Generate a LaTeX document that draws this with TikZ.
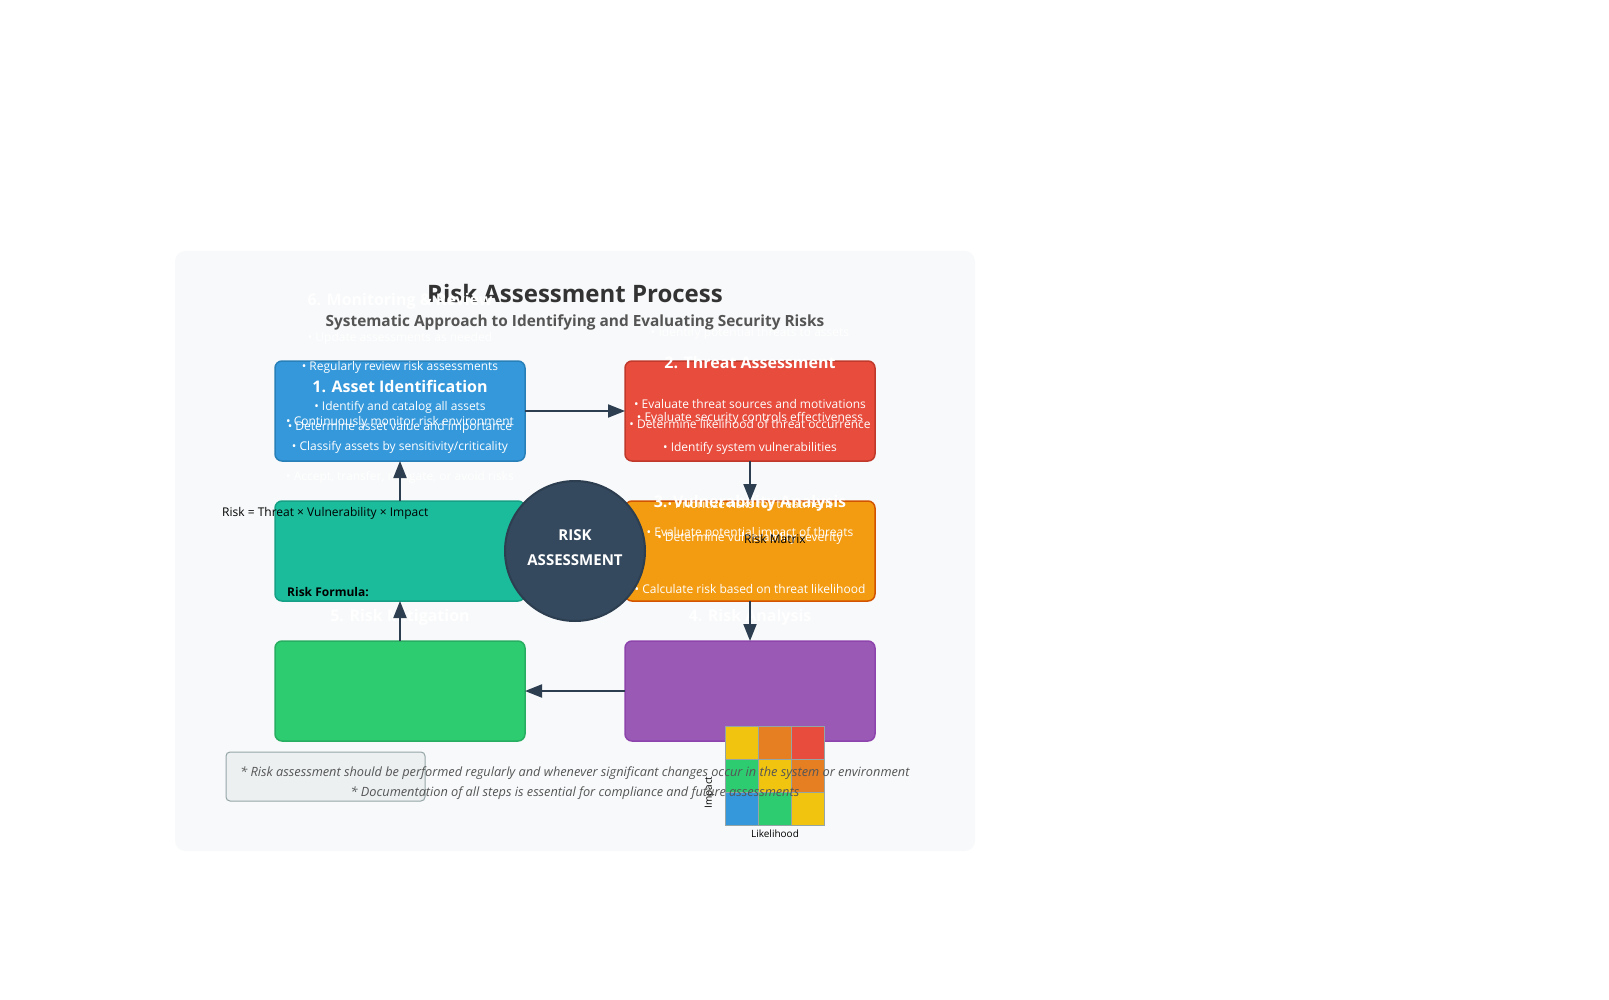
\documentclass[tikz,border=0pt]{standalone}
\usepackage{fontspec}
\setmainfont{Open Sans}
\usetikzlibrary{arrows.meta}
\definecolor{panel}{HTML}{F8F9FA}
\definecolor{ink}{HTML}{333333}
\definecolor{subink}{HTML}{555555}
\definecolor{arrowc}{HTML}{2C3E50}
\definecolor{blueb}{HTML}{3498DB}
\definecolor{blued}{HTML}{2980B9}
\definecolor{redb}{HTML}{E74C3C}
\definecolor{redd}{HTML}{C0392B}
\definecolor{tealb}{HTML}{1ABC9C}
\definecolor{teald}{HTML}{16A085}
\definecolor{orangeb}{HTML}{F39C12}
\definecolor{oranged}{HTML}{D35400}
\definecolor{greenb}{HTML}{2ECC71}
\definecolor{greend}{HTML}{27AE60}
\definecolor{purpleb}{HTML}{9B59B6}
\definecolor{purpled}{HTML}{8E44AD}
\definecolor{coref}{HTML}{34495E}
\definecolor{mx-y}{HTML}{F1C40F}
\definecolor{mx-o}{HTML}{E67E22}
\definecolor{notefill}{HTML}{ECF0F1}
\definecolor{notegray}{HTML}{95A5A6}

\begin{document}
\begin{tikzpicture}[x=1pt,y=-1pt,
  stepbox/.style={draw,line width=1.5pt,rounded corners=7pt,minimum width=250pt,minimum height=100pt,outer sep=0pt},
  bul/.style={text=white,inner sep=0pt,yshift=-1.5pt,font=\fontsize{12}{14}\selectfont},
  ttl/.style={text=white,inner sep=0pt,yshift=-1.5pt,font=\bfseries\fontsize{16}{19}\selectfont},
  blk/.style={text=black,inner sep=0pt,yshift=-1.5pt,font=\fontsize{12}{14}\selectfont},
  arr/.style={line width=2pt,draw=arrowc,-{Triangle[length=17pt,width=13pt]}},
  cell/.style={draw=notegray,line width=1pt,minimum size=33.3pt,inner sep=0pt,outer sep=0pt},
  note/.style={text=subink,inner sep=0pt,yshift=-2pt,font=\itshape\fontsize{12.75}{15}\selectfont}]
  \useasboundingbox (0,0) rectangle (1609,1000);
  \fill[panel,rounded corners=10pt] (175,251) rectangle (975,851);

  % title
  \node[text=ink,font=\bfseries\fontsize{24}{28}\selectfont] (title) at (575,294) {Risk Assessment Process};
  \node[text=subink,font=\bfseries\fontsize{15.4}{18}\selectfont] (subtitle) at (575,322) {Systematic Approach to Identifying and Evaluating Security Risks};

  % step boxes
  \node[stepbox,fill=blueb,draw=blued] (asset) at (400,411) {};
  \node[stepbox,fill=redb,draw=redd] (threat) at (750,411) {};
  \node[stepbox,fill=tealb,draw=teald] (monitor) at (400,551) {};
  \node[stepbox,fill=orangeb,draw=oranged] (vuln) at (750,551) {};
  \node[stepbox,fill=greenb,draw=greend] (mitig) at (400,691) {};
  \node[stepbox,fill=purpleb,draw=purpled] (analysis) at (750,691) {};

  % step texts
  \node[ttl] (t6) at (400,300) {6. Monitoring \& Review};
  \node[bul] (b6a) at (400,337) {• Update assessments as needed};
  \node[bul] (b6b) at (400,366) {• Regularly review risk assessments};
  \node[bul] (b6c) at (400,421) {• Continuously monitor risk environment};
  \node[ttl] (t1) at (400,385) {1. Asset Identification};
  \node[bul] (b1a) at (400,406) {• Identify and catalog all assets};
  \node[bul] (b1b) at (400,426) {• Determine asset value and importance};
  \node[bul] (b1c) at (400,446) {• Classify assets by sensitivity/criticality};
  \node[bul] (b5a) at (400,476) {• Accept, transfer, mitigate, or avoid risks};
  \node[ttl] (t5) at (400,616) {5. Risk Mitigation};

  \node[bul] (b2a) at (750,332) {• Identify potential threats to assets};
  \node[ttl] (t2) at (750,361) {2. Threat Assessment};
  \node[bul] (b2b) at (750,402) {• Evaluate threat sources and motivations};
  \node[bul] (b3b) at (750,417) {• Evaluate security controls effectiveness};
  \node[bul] (b2c) at (750,422) {• Determine likelihood of threat occurrence};
  \node[bul] (b3a) at (750,447) {• Identify system vulnerabilities};
  \node[ttl] (t3) at (750,502) {3. Vulnerability Analysis};
  \node[bul] (b4c) at (750,502) {• Prioritize risks for treatment};
  \node[bul] (b4a) at (750,532) {• Evaluate potential impact of threats};
  \node[bul] (b3c) at (750,537) {• Determine vulnerability severity};
  \node[bul] (b4b) at (750,587) {• Calculate risk based on threat likelihood};
  \node[ttl] (t4) at (750,616) {4. Risk Analysis};

  \node[blk,anchor=west] (formula) at (222,512) {Risk = Threat × Vulnerability × Impact};
  \node[blk,anchor=west,font=\bfseries\fontsize{12}{14}\selectfont] (formulalbl) at (287,591) {Risk Formula:};
  \node[blk] (mxlbl) at (775,537) {Risk Matrix};

  % centre
  \node[circle,fill=coref,draw=arrowc,line width=2pt,minimum size=140pt] (core) at (575,551) {};
  \node[text=white,align=center,font=\bfseries\fontsize{15}{25}\selectfont] (corelbl) at (575,548) {RISK\\ASSESSMENT};

  % cycle
  \draw[arr] (asset.east) -- (threat.west);
  \draw[arr] (threat.south) -- (vuln.north);
  \draw[arr] (vuln.south) -- (analysis.north);
  \draw[arr] (analysis.west) -- (mitig.east);
  \draw[arr] (mitig.north) -- (monitor.south);
  \draw[arr] (monitor.north) -- (asset.south);

  % risk matrix
  \foreach \r/\c/\col in {1/1/mx-y,1/2/mx-o,1/3/redb,
                          2/1/greenb,2/2/mx-y,2/3/mx-o,
                          3/1/blueb,3/2/greenb,3/3/mx-y}
    \node[cell,fill=\col] (m-\r-\c) at (725+33.3*\c-16.65,726+33.3*\r-16.65) {};
  \node[blk,font=\fontsize{10}{12}\selectfont] (likeli) at (775,832) {Likelihood};
  \node[blk,font=\fontsize{10}{12}\selectfont,rotate=90,yshift=1.5pt] (impact) at (711,791) {Impact};

  % notes
  \node[draw=notegray,fill=notefill,line width=1pt,rounded corners=4pt,minimum width=199pt,minimum height=49pt] (notebox) at (325.5,776.5) {};
  \node[note] (note1) at (575,771) {* Risk assessment should be performed regularly and whenever significant changes occur in the system or environment};
  \node[note] (note2) at (575,791) {* Documentation of all steps is essential for compliance and future assessments};
\end{tikzpicture}
\end{document}
